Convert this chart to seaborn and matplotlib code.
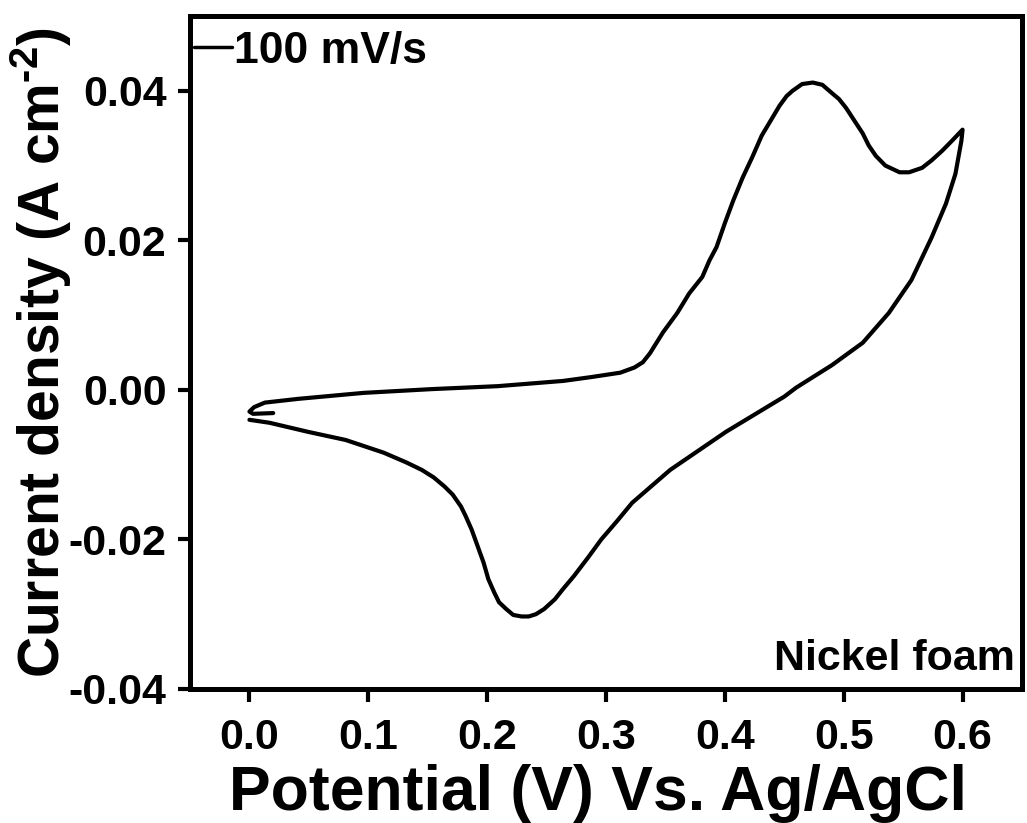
import matplotlib
matplotlib.use("Agg")
import matplotlib.pyplot as plt
import seaborn as sns
import pandas as pd
from matplotlib.ticker import FormatStrFormatter

# Cyclic voltammogram of bare nickel foam, 100 mV/s scan
# anodic sweep (0.0 V -> 0.6 V)
forward_potential = [0.020, 0.003, 0.000, 0.004, 0.013, 0.041, 0.096, 0.153, 0.209,
                     0.264, 0.287, 0.312, 0.324, 0.331, 0.337, 0.348, 0.360, 0.370,
                     0.381, 0.387, 0.393, 0.400, 0.407, 0.415, 0.423, 0.431, 0.440,
                     0.446, 0.452, 0.457, 0.465, 0.474, 0.482, 0.490, 0.496, 0.502,
                     0.509, 0.516, 0.521, 0.527, 0.535, 0.547, 0.555, 0.566, 0.574,
                     0.583, 0.591, 0.600]
forward_current = [-0.0031, -0.0032, -0.0029, -0.0023, -0.0017, -0.0012, -0.0004, 0.0001,
                   0.0005, 0.0012, 0.0017, 0.0023, 0.0030, 0.0037, 0.0049, 0.0077, 0.0103,
                   0.0129, 0.0151, 0.0173, 0.0191, 0.0223, 0.0253, 0.0284, 0.0311, 0.0340,
                   0.0364, 0.0380, 0.0393, 0.0400, 0.0409, 0.0411, 0.0408, 0.0397, 0.0389,
                   0.0377, 0.0360, 0.0343, 0.0327, 0.0313, 0.0300, 0.0291, 0.0291, 0.0297,
                   0.0307, 0.0320, 0.0333, 0.0348]
# cathodic sweep (0.6 V -> 0.0 V)
reverse_potential = [0.599, 0.594, 0.586, 0.574, 0.557, 0.538, 0.516, 0.490, 0.460,
                     0.450, 0.401, 0.354, 0.338, 0.322, 0.309, 0.296, 0.285, 0.273,
                     0.264, 0.257, 0.248, 0.241, 0.235, 0.229, 0.222, 0.216, 0.210,
                     0.206, 0.201, 0.197, 0.192, 0.187, 0.182, 0.178, 0.171, 0.164,
                     0.155, 0.145, 0.132, 0.113, 0.081, 0.049, 0.017, 0.000]
reverse_current = [0.0333, 0.0289, 0.0249, 0.0204, 0.0147, 0.0103, 0.0063, 0.0033, 0.0003,
                   -0.0009, -0.0056, -0.0107, -0.0129, -0.0151, -0.0176, -0.0200, -0.0224,
                   -0.0249, -0.0266, -0.0280, -0.0293, -0.0300, -0.0303, -0.0303, -0.0301,
                   -0.0293, -0.0284, -0.0271, -0.0253, -0.0231, -0.0209, -0.0187, -0.0169,
                   -0.0156, -0.0140, -0.0129, -0.0117, -0.0107, -0.0097, -0.0084, -0.0067,
                   -0.0056, -0.0044, -0.0040]

scan_label = "100 mV/s"
sample_label = "Nickel foam"
x_ticks = [0.0, 0.1, 0.2, 0.3, 0.4, 0.5, 0.6]
y_ticks = [-0.04, -0.02, 0.00, 0.02, 0.04]

sns.set_style("ticks")
plt.rcParams["font.family"] = ["Liberation Sans", "DejaVu Sans"]
plt.rcParams["font.weight"] = "bold"
plt.rcParams["axes.unicode_minus"] = False
plt.rcParams["mathtext.fontset"] = "custom"
plt.rcParams["mathtext.rm"] = "Liberation Sans:bold"
plt.rcParams["mathtext.bf"] = "Liberation Sans:bold"
plt.rcParams["mathtext.default"] = "rm"
plt.rcParams["text.color"] = "black"
plt.rcParams["axes.labelcolor"] = "black"
plt.rcParams["xtick.color"] = "black"
plt.rcParams["ytick.color"] = "black"
plt.rcParams["axes.edgecolor"] = "black"

df = pd.DataFrame({
    "potential": forward_potential + reverse_potential,
    "current": forward_current + reverse_current,
    "scan": [scan_label] * (len(forward_potential) + len(reverse_potential)),
})

fig = plt.figure(figsize=(10.27, 8.23), dpi=100)
ax = fig.add_axes([190 / 1027, 134 / 823, 832 / 1027, 673 / 823])

sns.lineplot(data=df, x="potential", y="current", hue="scan", palette=["black"],
             sort=False, estimator=None, linewidth=3.0, ax=ax)
for line in ax.get_lines():
    line.set_solid_joinstyle("round")
    line.set_solid_capstyle("round")

ax.set_xlim(-0.05, 0.65)
ax.set_ylim(-0.04, 0.05)
ax.set_xticks(x_ticks)
ax.set_yticks(y_ticks)
ax.xaxis.set_major_formatter(FormatStrFormatter("%.1f"))
ax.yaxis.set_major_formatter(FormatStrFormatter("%.2f"))

for side in ["top", "right", "bottom", "left"]:
    ax.spines[side].set_visible(True)
    ax.spines[side].set_linewidth(3.6)
    ax.spines[side].set_color("black")

ax.tick_params(axis="both", direction="out", length=9, width=3, color="black",
               labelcolor="black", labelsize=31, pad=8)
ax.tick_params(axis="x", pad=12)
for lab in ax.get_xticklabels() + ax.get_yticklabels():
    lab.set_fontweight("bold")

ax.set_xlabel("Potential (V) Vs. Ag/AgCl", fontsize=45, fontweight="bold", color="black")
ax.set_ylabel("Current density (A cm$^{\\text{-2}}$)", fontsize=41, fontweight="bold",
              color="black")
ax.xaxis.set_label_coords(0.49, -0.112)
ax.yaxis.set_label_coords(-0.14, 0.5)

handles, labels = ax.get_legend_handles_labels()
leg = ax.legend(handles, labels, loc="upper left", bbox_to_anchor=(0.0, 0.985),
                frameon=False, handlelength=0.85, handletextpad=0.05,
                borderaxespad=0.0, borderpad=0.1, prop={"weight": "bold", "size": 32})
for line in leg.get_lines():
    line.set_linewidth(2.5)
for t in leg.get_texts():
    t.set_color("black")

ax.text(0.992, 0.028, sample_label, transform=ax.transAxes, ha="right", va="baseline",
        fontsize=31, fontweight="bold", color="black")

fig.savefig("out.png", dpi=100, facecolor="white")
